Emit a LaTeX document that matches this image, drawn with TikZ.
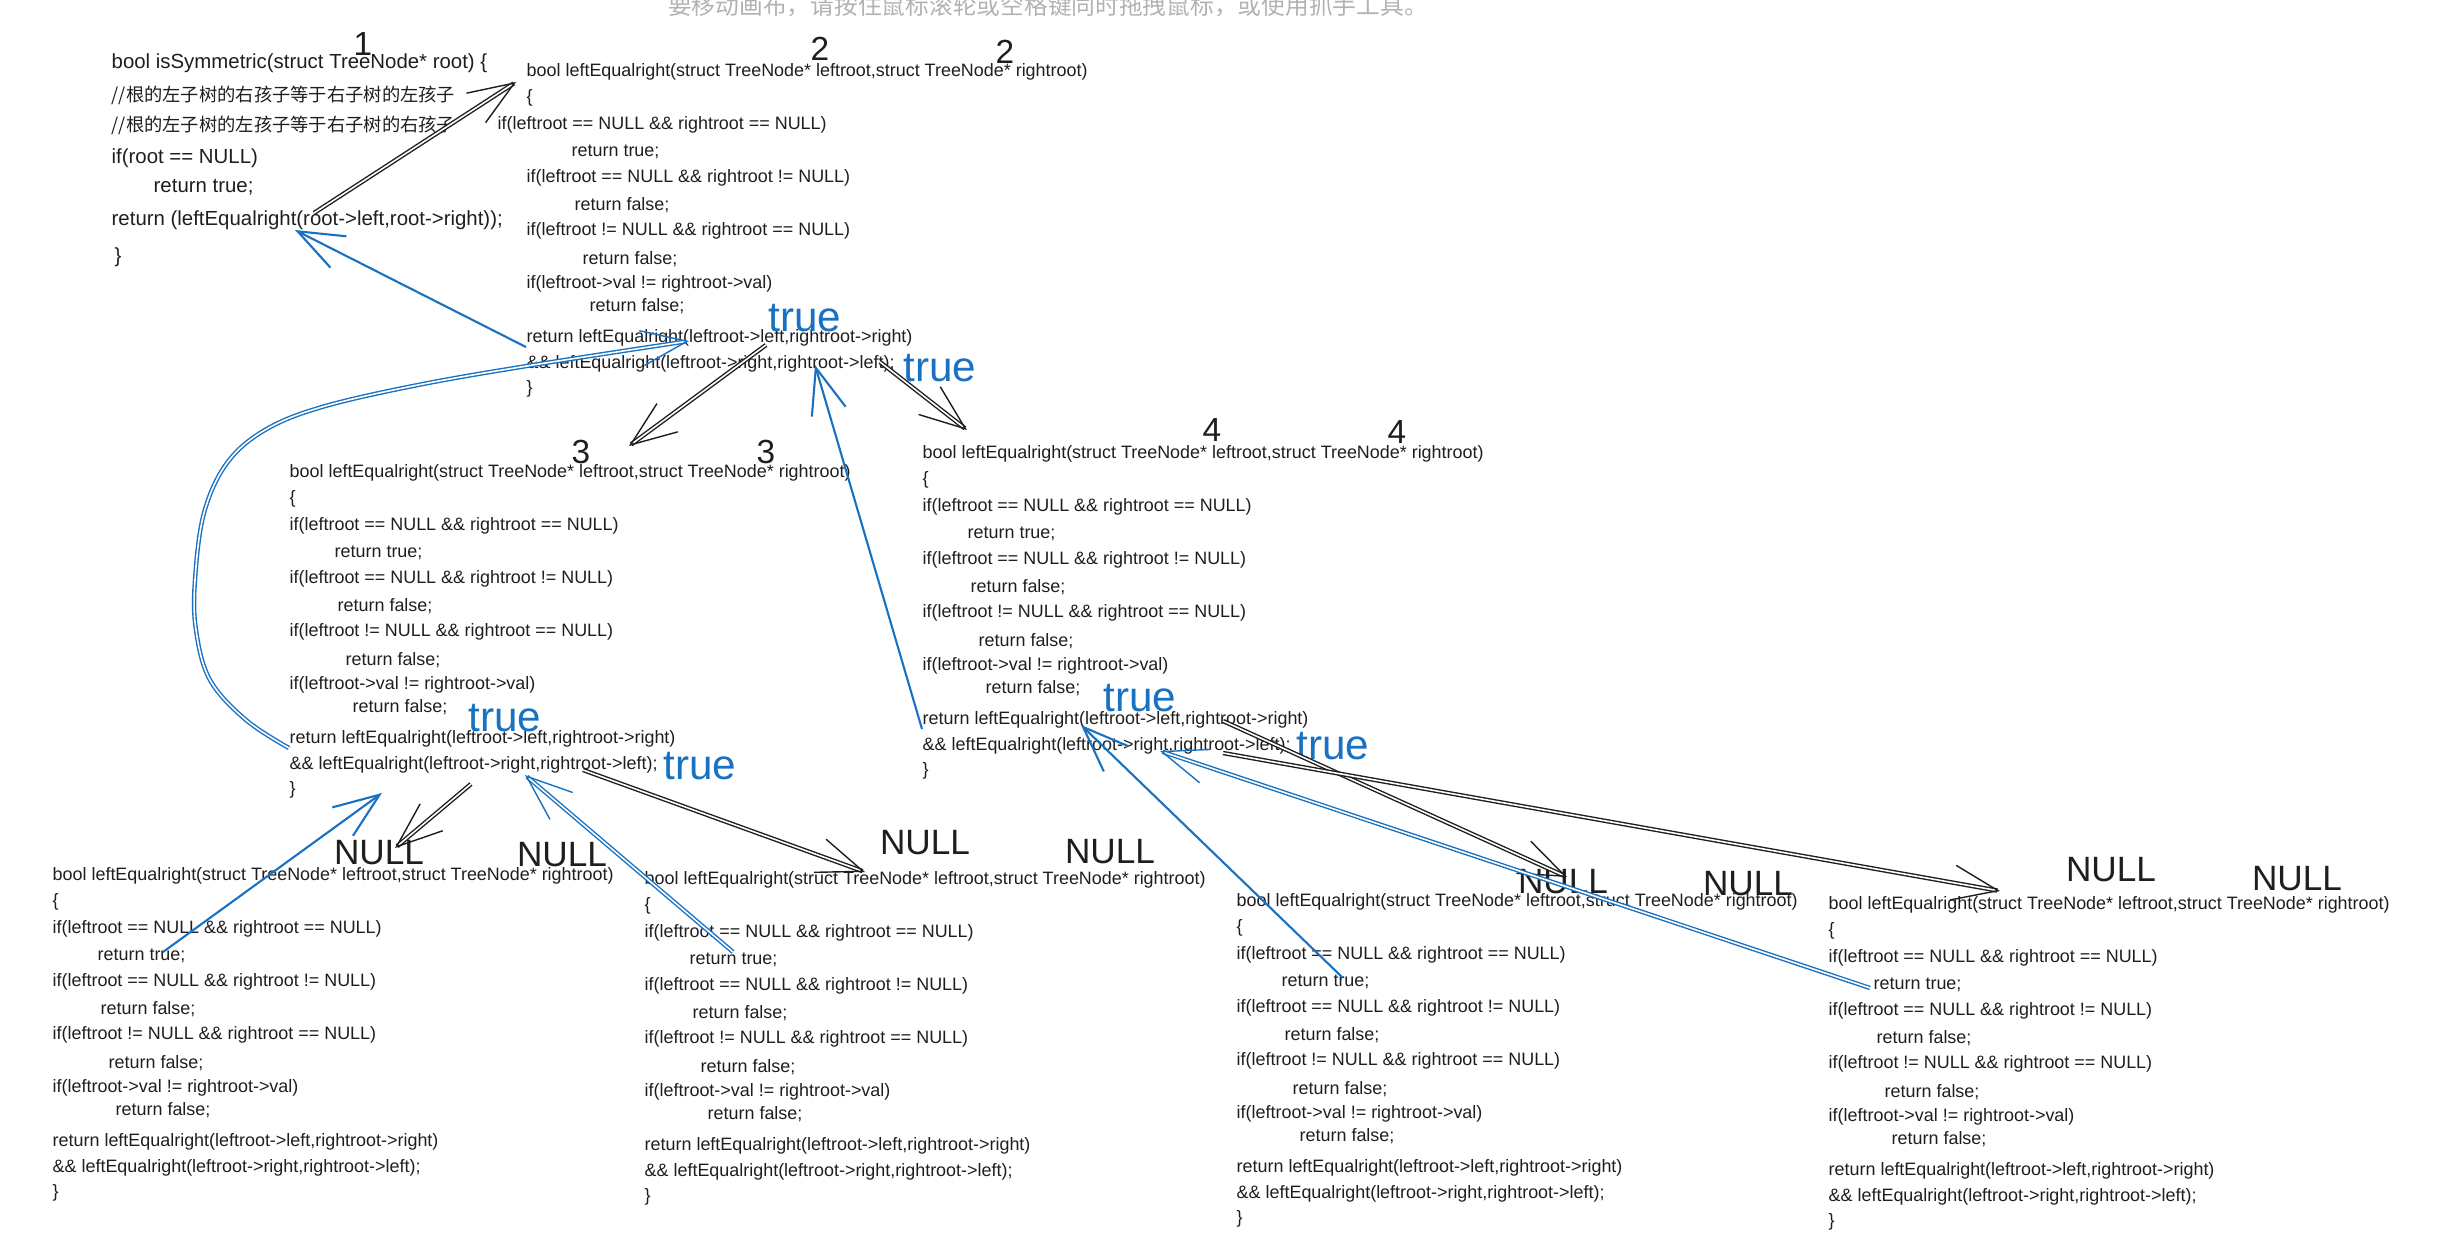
\documentclass[tikz,border=0pt]{standalone}
\usepackage{fontspec}
\setmainfont{Liberation Sans}
\newfontfamily\cjk{Noto Sans CJK SC}
\usetikzlibrary{arrows.meta,positioning}

\definecolor{ink}{RGB}{30,30,30}
\definecolor{pen}{RGB}{25,113,194}
\definecolor{hintgray}{RGB}{178,178,178}

\tikzset{
  code/.style={anchor=west, inner sep=0pt, text=ink, font=\fontsize{5.1}{6}\selectfont},
  bigcode/.style={code, font=\fontsize{5.8}{7}\selectfont},
  cn/.style={code, font=\cjk\fontsize{5.2}{6}\selectfont},
  num/.style={inner sep=0pt, text=ink, font=\fontsize{9.5}{10}\selectfont},
  null/.style={inner sep=0pt, text=ink, font=\fontsize{10}{11}\selectfont},
  truth/.style={inner sep=0pt, text=pen, font=\fontsize{12}{13}\selectfont},
  hint/.style={inner sep=0pt, text=hintgray, font=\cjk\fontsize{6.75}{7}\selectfont},
  call/.style={draw=ink, double, line width=0.4pt, double distance=0.45pt,
    -{Straight Barb[length=13pt,width=10pt]}},
  back/.style={draw=pen, line width=0.6pt, -{Straight Barb[length=13pt,width=10pt]}},
  backtwo/.style={back, double, line width=0.4pt, double distance=0.45pt},
}

% one leftEqualright block, lines named #2-1 ... #2-13
\newcommand\codeblock[4][0]{%
  \node[code] (#2-1) at (#3,#4) {bool leftEqualright(struct TreeNode* leftroot,struct TreeNode* rightroot)};
  \node[code] (#2-2) at (#3,#4+26) {\{};
  \node[code] (#2-3) at (#3+#1,#4+53) {if(leftroot == NULL \&\& rightroot == NULL)};
  \node[code] (#2-4) at (#3+45,#4+80) {return true;};
  \node[code] (#2-5) at (#3,#4+106) {if(leftroot == NULL \&\& rightroot != NULL)};
  \node[code] (#2-6) at (#3+48,#4+133) {return false;};
  \node[code] (#2-7) at (#3,#4+159) {if(leftroot != NULL \&\& rightroot == NULL)};
  \node[code] (#2-8) at (#3+56,#4+187) {return false;};
  \node[code] (#2-9) at (#3,#4+212) {if(leftroot->val != rightroot->val)};
  \node[code] (#2-10) at (#3+63,#4+234) {return false;};
  \node[code] (#2-11) at (#3,#4+266) {return leftEqualright(leftroot->left,rightroot->right)};
  \node[code] (#2-12) at (#3,#4+292) {\&\& leftEqualright(leftroot->right,rightroot->left);};
  \node[code] (#2-13) at (#3,#4+317) {\}};
}

\begin{document}
\begin{tikzpicture}[x=0.01cm,y=-0.01cm]
    \useasboundingbox (0,0) rectangle (2437,1249);

    % canvas hint
    \node[hint] (hint) at (1048,6) {要移动画布，请按住鼠标滚轮或空格键同时拖拽鼠标，或使用抓手工具。};

    % isSymmetric
    \node[bigcode] (s-1) at (111,63) {bool isSymmetric(struct TreeNode* root) \{};
    \node[cn] (s-2) at (111,95) {//根的左子树的右孩子等于右子树的左孩子};
    \node[cn] (s-3) at (111,125) {//根的左子树的左孩子等于右子树的右孩子};
    \node[bigcode] (s-4) at (111,158) {if(root == NULL)};
    \node[bigcode] (s-5) at (153,187) {return true;};
    \node[bigcode] (s-6) at (111,220) {return (leftEqualright(root->left,root->right));};
    \node[bigcode] (s-7) at (114,257) {\}};

    % leftEqualright calls
    \codeblock[-29]{b2}{526}{72}
    \codeblock{b3}{289}{473}
    \codeblock{b4}{922}{454}
    \codeblock{b5}{52}{876}
    \codeblock{b6}{644}{880}
    \codeblock{b7}{1236}{902}
    \codeblock{b8}{1828}{905}

    % Levels
    \node[num] (one) at (363,44) {1};
    \node[num] (twoa) at (820,49) {2};
    \node[num] (twob) at (1005,52) {2};
    \node[num] (threea) at (581,452) {3};
    \node[num] (threeb) at (766,452) {3};
    \node[num] (foura) at (1212,430) {4};
    \node[num] (fourb) at (1397,432) {4};

    % Leaves
    \node[null] (nulla) at (379,853) {NULL};
    \node[null] (nullb) at (562,855) {NULL};
    \node[null] (nullc) at (925,843) {NULL};
    \node[null] (nulld) at (1110,852) {NULL};
    \node[null] (nulle) at (1563,882) {NULL};
    \node[null] (nullf) at (1748,884) {NULL};
    \node[null] (nullg) at (2111,870) {NULL};
    \node[null] (nullh) at (2297,879) {NULL};

    % Results
    \node[truth] (t2a) at (805,318) {true};
    \node[truth] (t2b) at (940,368) {true};
    \node[truth] (t3a) at (505,718) {true};
    \node[truth] (t3b) at (700,766) {true};
    \node[truth] (t4a) at (1140,698) {true};
    \node[truth] (t4b) at (1333,746) {true};

    % Arrow ends
    \coordinate (c1) at (314,213);   \coordinate (c1e) at (516,82);
    \coordinate (c2) at (766,345);   \coordinate (c2e) at (629,446);
    \coordinate (c3) at (880,362);   \coordinate (c3e) at (967,430);
    \coordinate (c4) at (471,784);   \coordinate (c4e) at (395,848);
    \coordinate (c5) at (583,770);   \coordinate (c5e) at (865,872);
    \coordinate (c6) at (1223,721);  \coordinate (c6e) at (1567,877);
    \coordinate (c7) at (1223,753);  \coordinate (c7e) at (2000,891);
    \coordinate (r1e) at (295,230);
    \coordinate (r2e) at (689,341);
    \coordinate (r3e) at (815,365);
    \coordinate (r4) at (163,952);   \coordinate (r4e) at (382,793);
    \coordinate (r5) at (733,952);   \coordinate (r5e) at (525,775);
    \coordinate (r6) at (1342,977);  \coordinate (r6e) at (1081,725);
    \coordinate (r7) at (1870,988);  \coordinate (r7e) at (1160,751);

    % Calls
    \draw[call] (c1) -- (c1e);
    \draw[call] (c2) -- (c2e);
    \draw[call] (c3) -- (c3e);
    \draw[call] (c4) -- (c4e);
    \draw[call] (c5) -- (c5e);
    \draw[call] (c6) -- (c6e);
    \draw[call] (c7) -- (c7e);

    % Returns
    \draw[back] (b2-11.south west) -- (r1e);
    \draw[backtwo] plot[smooth, tension=0.6] coordinates {(b3-11.south west) (246,720) (210,680)
        (196,630) (195,580) (204,513) (227,463) (265,430) (322,407) (418,385) (533,365) (r2e)};
    \draw[back] (b4-11.south west) -- (r3e);
    \draw[back] (r4) -- (r4e);
    \draw[backtwo] (r5) -- (r5e);
    \draw[back] (r6) -- (r6e);
    \draw[backtwo] (r7) -- (r7e);
\end{tikzpicture}
\end{document}
